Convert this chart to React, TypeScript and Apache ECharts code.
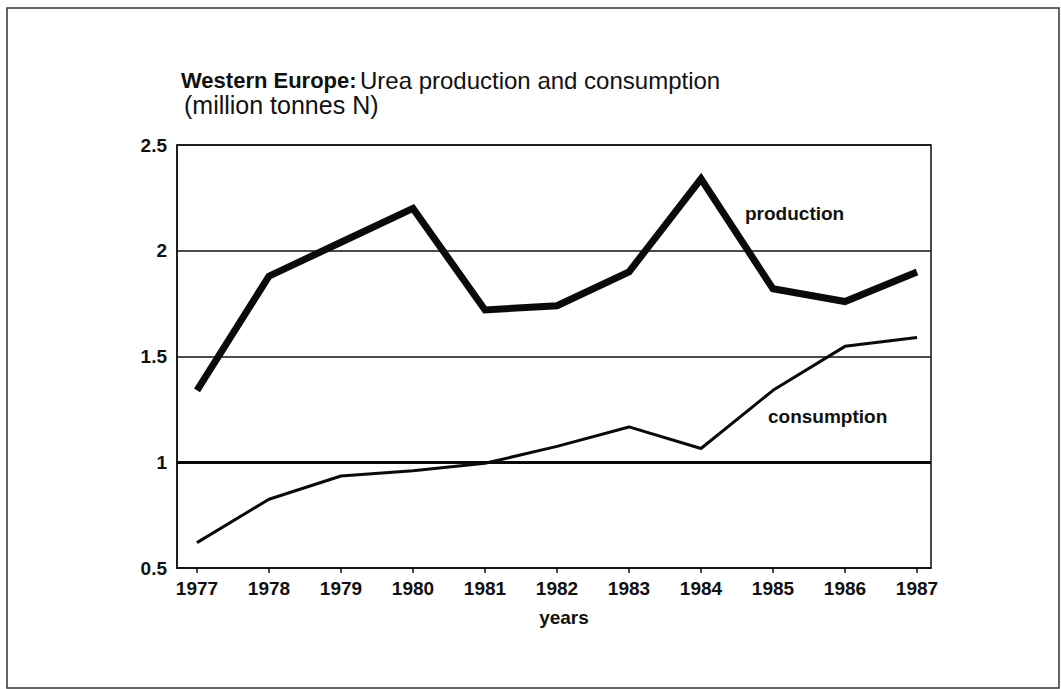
import React, { useEffect, useRef } from "react";
import * as echarts from "echarts";

const years = [1977, 1978, 1979, 1980, 1981, 1982, 1983, 1984, 1985, 1986, 1987];
const production = [1.34, 1.88, 2.04, 2.2, 1.72, 1.74, 1.9, 2.34, 1.82, 1.76, 1.9];
const consumption = [0.62, 0.825, 0.935, 0.96, 0.995, 1.075, 1.167, 1.065, 1.34, 1.548, 1.59];
const yTicks = [0.5, 1, 1.5, 2, 2.5];

const FONT = '"Liberation Sans", Arial, Helvetica, sans-serif';

export default function App() {
  const ref = useRef<HTMLDivElement>(null);
  useEffect(() => {
    if (!ref.current) return;
    const chart = echarts.init(ref.current, null, { renderer: "svg" });
    const pts = (vals: number[]) => years.map((y, i) => [y, vals[i]]);
    chart.setOption({
      animation: false,
      backgroundColor: "#ffffff",
      textStyle: { fontFamily: FONT },
      grid: {
        left: 177,
        top: 145,
        width: 754,
        height: 423,
        show: true,
        borderColor: "#111",
        borderWidth: 1.5,
        backgroundColor: "transparent",
      },
      xAxis: {
        type: "value",
        min: 1977 - 20 / 72,
        max: 1987 + 14 / 72,
        axisLine: { show: true, onZero: false, lineStyle: { color: "#111", width: 1.5 } },
        axisTick: {
          show: true,
          inside: false,
          length: 5,
          customValues: years,
          lineStyle: { color: "#111", width: 1.5 },
        },
        axisLabel: {
          customValues: years,
          formatter: (v: number) => String(Math.round(v)),
          margin: 11,
          color: "#111",
          fontSize: 19,
          fontWeight: "bold",
          fontFamily: FONT,
        },
        splitLine: { show: false },
      },
      yAxis: {
        type: "value",
        min: 0.5,
        max: 2.5,
        interval: 0.5,
        axisLine: { show: true, lineStyle: { color: "#111", width: 1.5 } },
        axisTick: { show: false },
        axisLabel: {
          customValues: yTicks,
          formatter: (v: number) => String(v),
          margin: 10,
          color: "#111",
          fontSize: 19,
          fontWeight: "bold",
          fontFamily: FONT,
        },
        splitLine: { show: true, lineStyle: { color: "#111", width: 1.6 } },
      },
      series: [
        {
          name: "production",
          type: "line",
          data: pts(production),
          symbol: "none",
          lineStyle: { color: "#0a0a0a", width: 7, join: "miter" },
          z: 5,
        },
        {
          name: "consumption",
          type: "line",
          data: pts(consumption),
          symbol: "none",
          lineStyle: { color: "#0a0a0a", width: 3 },
          z: 4,
          markLine: {
            silent: true,
            symbol: "none",
            label: { show: false },
            lineStyle: { color: "#0a0a0a", width: 3, type: "solid" },
            data: [{ yAxis: 1 }],
          },
        },
      ],
      graphic: [
        {
          type: "rect",
          shape: { x: 7, y: 8, width: 1052, height: 680 },
          style: { fill: "none", stroke: "#333", lineWidth: 1.5 },
          silent: true,
        },
        {
          type: "text",
          x: 181,
          y: 80,
          style: {
            text: "{b|Western Europe:} {n|Urea production and consumption}",
            verticalAlign: "middle",
            rich: {
              b: { fontSize: 22, fontWeight: "bold", fontFamily: FONT, fill: "#111" },
              n: { fontSize: 24, fontFamily: FONT, fill: "#111" },
            },
          },
        },
        {
          type: "text",
          x: 184,
          y: 105,
          style: {
            text: "(million tonnes N)",
            fontSize: 25,
            fontFamily: FONT,
            fill: "#111",
            verticalAlign: "middle",
          },
        },
        {
          type: "text",
          x: 745,
          y: 213,
          style: {
            text: "production",
            fontSize: 19,
            fontWeight: "bold",
            fontFamily: FONT,
            fill: "#111",
            verticalAlign: "middle",
          },
        },
        {
          type: "text",
          x: 768,
          y: 416,
          style: {
            text: "consumption",
            fontSize: 19,
            fontWeight: "bold",
            fontFamily: FONT,
            fill: "#111",
            verticalAlign: "middle",
          },
        },
        {
          type: "text",
          x: 564,
          y: 617,
          style: {
            text: "years",
            fontSize: 19,
            fontWeight: "bold",
            fontFamily: FONT,
            fill: "#111",
            align: "center",
            verticalAlign: "middle",
          },
        },
      ],
    });
    return () => chart.dispose();
  }, []);
  return (
    <div
      ref={ref}
      style={{ position: "fixed", left: 0, top: 0, width: 1061, height: 689, background: "#fff" }}
    />
  );
}
